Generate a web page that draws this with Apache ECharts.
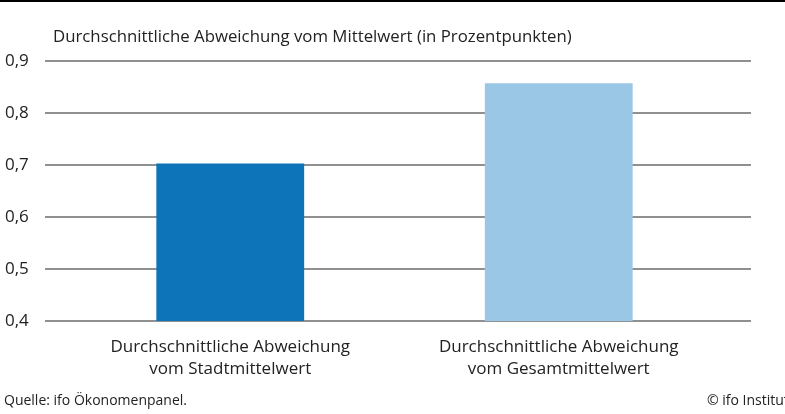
<!DOCTYPE html>
<html>
<head>
<meta charset="utf-8">
<script src="https://cdn.jsdelivr.net/npm/echarts@6/dist/echarts.min.js"></script>
<style>
  html, body { margin: 0; padding: 0; background: #fff; }
  #chart { width: 785px; height: 414px; }
</style>
</head>
<body>
<div id="chart"></div>
<script>
  const categories = ['Durchschnittliche Abweichung\nvom Stadtmittelwert', 'Durchschnittliche Abweichung\nvom Gesamtmittelwert'];
  const values = [0.703, 0.857];
  const barColors = ['#0e74ba', '#9ac7e6'];
  const yTicks = { min: 0.4, max: 0.9, interval: 0.1 };

  const font = "'Open Sans', sans-serif";
  const chart = echarts.init(document.getElementById('chart'));

  const option = {
    animation: false,
    textStyle: { fontFamily: font },
    graphic: [
      { type: 'rect', left: 0, top: 0, shape: { width: 785, height: 2 }, style: { fill: '#000' } },
      { type: 'text', left: 53, top: 29, style: { text: 'Durchschnittliche Abweichung vom Mittelwert (in Prozentpunkten)', font: '16.8px ' + font, fill: '#222' } },
      { type: 'text', left: 4, top: 394, style: { text: 'Quelle: ifo Ökonomenpanel.', font: '14px ' + font, fill: '#222' } },
      { type: 'text', left: 707, top: 394, style: { text: '© ifo Institut', font: '14px ' + font, fill: '#222' } }
    ],
    grid: [
      { left: 45, right: 34, top: 61, bottom: 93 },
      { left: 66, right: 62, top: 61, bottom: 93 }
    ],
    xAxis: [
      { gridIndex: 0, type: 'category', data: ['', ''], axisLine: { show: false }, axisTick: { show: false }, axisLabel: { show: false } },
      { gridIndex: 1, type: 'category', data: categories,
        axisLine: { show: false }, axisTick: { show: false },
        axisLabel: { color: '#222', fontSize: 17, lineHeight: 22, margin: 15, fontFamily: font } }
    ],
    yAxis: [
      { gridIndex: 0, type: 'value', min: yTicks.min, max: yTicks.max, interval: yTicks.interval,
        axisLine: { show: false }, axisTick: { show: false },
        axisLabel: { color: '#222', fontSize: 17, margin: 40, align: 'left', fontFamily: font,
          formatter: v => v.toFixed(1).replace('.', ',') },
        splitLine: { lineStyle: { color: '#6b6b6b', width: 1.5 } } },
      { gridIndex: 1, type: 'value', min: yTicks.min, max: yTicks.max, interval: yTicks.interval, show: false }
    ],
    series: [
      { type: 'bar', xAxisIndex: 1, yAxisIndex: 1, barWidth: '45%',
        data: values.map((v, i) => ({ value: v, itemStyle: { color: barColors[i] } })) }
    ]
  };
  chart.setOption(option);
</script>
</body>
</html>
